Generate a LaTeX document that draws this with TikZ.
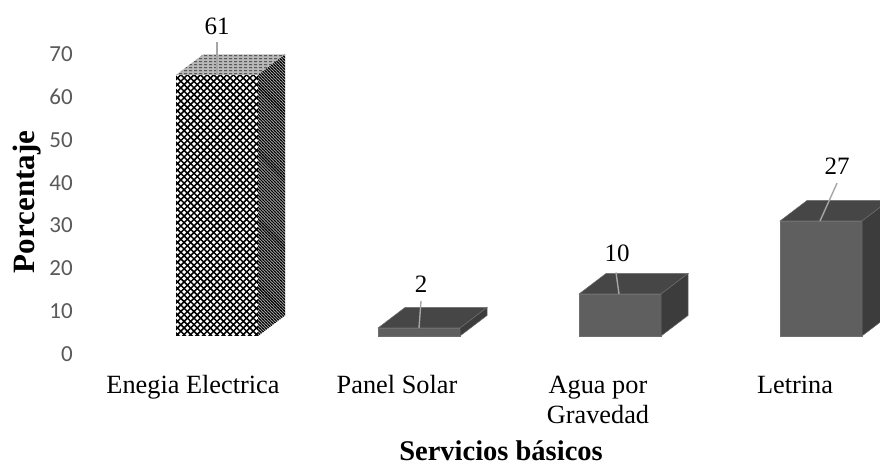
\documentclass[tikz,border=0pt]{standalone}
\usepackage{fontspec}
\setmainfont{Liberation Serif}
\newfontfamily\tickfont{Carlito}
\usetikzlibrary{patterns}
\pgfdeclarepatternformonly{dmesh}{\pgfqpoint{-1pt}{-1pt}}{\pgfqpoint{7.6pt}{7.6pt}}{\pgfqpoint{6.6pt}{6.6pt}}{%
  \pgfsetlinewidth{1.5pt}%
  \pgfpathmoveto{\pgfqpoint{-0.5pt}{-0.5pt}}\pgfpathlineto{\pgfqpoint{7.1pt}{7.1pt}}%
  \pgfpathmoveto{\pgfqpoint{-0.5pt}{7.1pt}}\pgfpathlineto{\pgfqpoint{7.1pt}{-0.5pt}}%
  \pgfusepath{stroke}}
\pgfdeclarepatternformonly{sidelines}{\pgfqpoint{-1pt}{-1pt}}{\pgfqpoint{4pt}{4pt}}{\pgfqpoint{3pt}{3pt}}{%
  \pgfsetlinewidth{0.9pt}%
  \pgfpathmoveto{\pgfqpoint{-0.5pt}{3.5pt}}\pgfpathlineto{\pgfqpoint{3.5pt}{-0.5pt}}%
  \pgfusepath{stroke}}
\pgfdeclarepatternformonly{topdash}{\pgfqpoint{0pt}{0pt}}{\pgfqpoint{5pt}{3.2pt}}{\pgfqpoint{5pt}{3.2pt}}{%
  \pgfsetlinewidth{1.1pt}%
  \pgfpathmoveto{\pgfqpoint{0pt}{1.6pt}}\pgfpathlineto{\pgfqpoint{3.2pt}{1.6pt}}%
  \pgfusepath{stroke}}
\definecolor{barfront}{HTML}{5F5F5F}
\definecolor{bartop}{HTML}{464646}
\definecolor{barside}{HTML}{3C3C3C}
\definecolor{baredge}{HTML}{6E6E6E}
\definecolor{ticktxt}{HTML}{595959}
\definecolor{leadergray}{HTML}{A6A6A6}
\begin{document}
\begin{tikzpicture}[x=1bp,y=-1bp,
  frontface/.style={fill=barfront,draw=baredge,line width=0.5bp},
  topface/.style={fill=bartop,draw=baredge,line width=0.5bp},
  sideface/.style={fill=barside,draw=baredge,line width=0.5bp},
  ticklbl/.style={anchor=east,inner sep=0pt,text=ticktxt,font=\tickfont\fontsize{23bp}{26bp}\selectfont},
  datalbl/.style={anchor=base,inner sep=0pt,font=\fontsize{25bp}{28bp}\selectfont},
  catlbl/.style={anchor=base,inner sep=0pt,align=center,font=\fontsize{26.3bp}{30bp}\selectfont},
  leader/.style={draw=leadergray,line width=1.4bp}]
\useasboundingbox (0,0) rectangle (880,466);
\fill[white] (0,0) rectangle (880,466);
% axis tick labels
\foreach \v [count=\i from 0] in {0,10,20,30,40,50,60,70}
  \node[ticklbl] (tick\v) at (73,354-42.8*\i) {\v};
% axis titles
\node[rotate=90,inner sep=0pt,font=\bfseries\fontsize{31bp}{34bp}\selectfont] (ytitle) at (27.5,202) {Porcentaje};
\node[anchor=base,inner sep=0pt,font=\bfseries\fontsize{28.5bp}{32bp}\selectfont] (xtitle) at (501,460) {Servicios básicos};
\begin{scope}
\clip (0,0) rectangle (880,466);
% bar 1 (patterned)
\fill[white] (176,75) rectangle (258,336);
\path[pattern=dmesh,pattern color=black] (176,75) rectangle (258,336);
\fill[gray!55] (176,75) -- ++(27,-20.5) -- ++(82,0) -- ++(-27,20.5) -- cycle;
\path[pattern=topdash,pattern color=black!85] (176,75) -- ++(27,-20.5) -- ++(82,0) -- ++(-27,20.5) -- cycle;
\fill[gray!70] (258,75) -- ++(27,-20.5) -- (285,315.5) -- (258,336) -- cycle;
\path[pattern=sidelines,pattern color=black] (258,75) -- ++(27,-20.5) -- (285,315.5) -- (258,336) -- cycle;
% bars 2-4
\foreach \xl/\yt in {378/328,579/294,780/221}{
  \path[frontface] (\xl,\yt) rectangle (\xl+82,336);
  \path[topface] (\xl,\yt) -- ++(27,-20.5) -- ++(82,0) -- ++(-27,20.5) -- cycle;
  \path[sideface] (\xl+82,\yt) -- ++(27,-20.5) -- (\xl+109,315.5) -- (\xl+82,336) -- cycle;
}
\end{scope}
% data labels and leaders
\coordinate (t1) at (217,75);
\coordinate (t2) at (419,328);
\coordinate (t3) at (619,294);
\coordinate (t4) at (820,221);
\node[datalbl] (l1) at (217,35) {61};
\node[datalbl] (l2) at (421,293) {2};
\node[datalbl] (l3) at (617,262) {10};
\node[datalbl] (l4) at (837,175) {27};
\draw[leader] ([yshift=-7bp]l1.south) -- (t1);
\draw[leader] ([yshift=-8bp]l2.south) -- (t2);
\draw[leader] ([yshift=-10bp,xshift=-1bp]l3.south) -- (t3);
\draw[leader] ([yshift=-8bp]l4.south) -- (t4);
% category labels
\node[catlbl] (c1) at (193,393) {Enegia Electrica};
\node[catlbl] (c2) at (397,393) {Panel Solar};
\node[catlbl,anchor=north] (c3) at (598,375.6) {Agua por\\Gravedad};
\node[catlbl] (c4) at (795,393) {Letrina};
\end{tikzpicture}
\end{document}
